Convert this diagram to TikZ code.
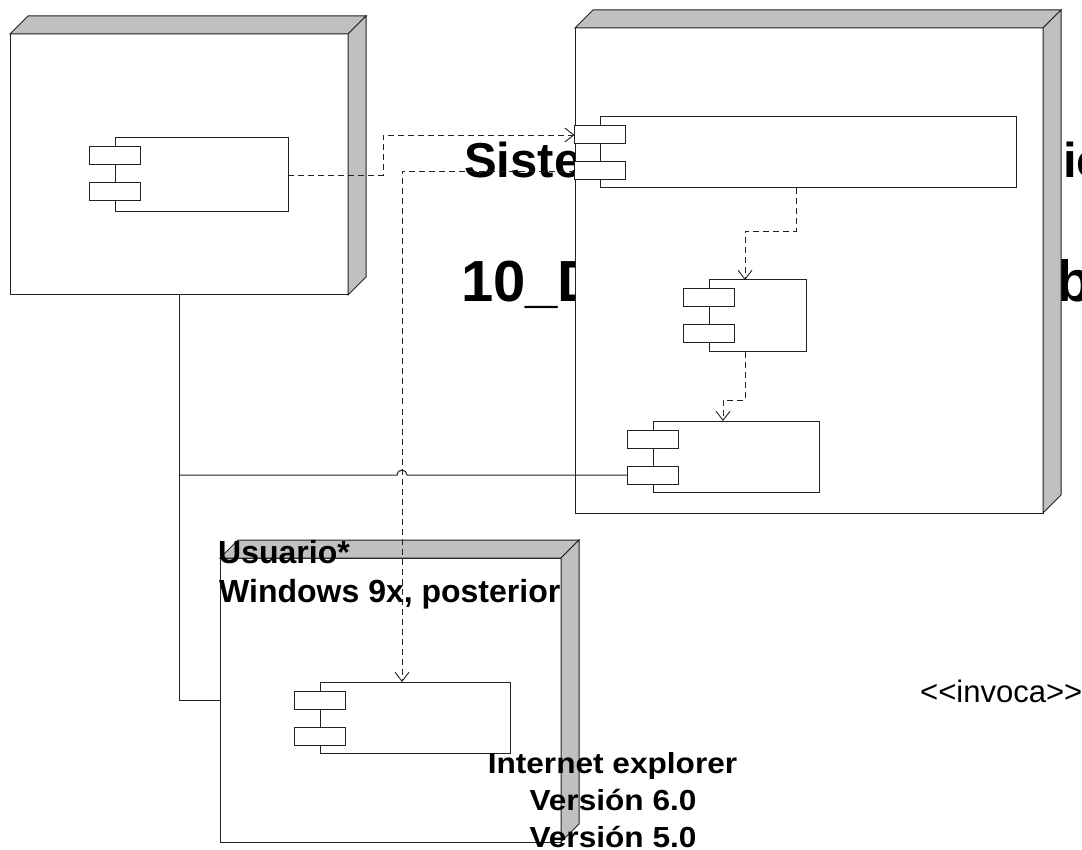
\documentclass[tikz,border=0pt]{standalone}
\usepackage{fontspec}
\setmainfont{Liberation Sans}
\usetikzlibrary{arrows.meta,calc}
\definecolor{shade}{HTML}{C0C0C0}
\definecolor{ink}{HTML}{222222}
\tikzset{
  face/.style={draw=ink, line width=1pt, fill=white, inner sep=0pt, outer sep=0pt},
  side/.style={draw=ink, line width=1pt, fill=shade},
  port/.style={draw=ink, line width=1pt, fill=white, inner sep=0pt, outer sep=0pt, minimum width=51pt, minimum height=18pt},
  dep/.style={draw=ink, line width=0.9pt, dash pattern=on 6pt off 4pt, -{Straight Barb[length=9pt,width=14pt]}},
  link/.style={draw=ink, line width=1pt},
  title/.style={font=\bfseries\fontsize{49}{58}\selectfont, inner sep=0pt, anchor=base west},
  titleb/.style={font=\bfseries\fontsize{58}{68}\selectfont, inner sep=0pt, anchor=base west},
  lbl/.style={font=\bfseries\fontsize{32}{38}\selectfont, inner sep=0pt, anchor=base west},
  ver/.style={font=\bfseries\fontsize{29}{35}\selectfont, inner sep=0pt, anchor=base},
  stereo/.style={font=\fontsize{31}{37}\selectfont, inner sep=0pt, anchor=base west}
}
\newcommand\threed[1]{%
  \draw[side] (#1.north west) -- ++(18,-18) -- ($(#1.north east)+(18,-18)$) -- (#1.north east) -- cycle;
  \draw[side] (#1.north east) -- ++(18,-18) -- ($(#1.south east)+(18,-18)$) -- (#1.south east) -- cycle;
}
\newcommand\comp[5]{%
  \node[face, anchor=north west, minimum width=#4, minimum height=#5] (#1) at (#2,#3) {};
  \node[port] (#1a) at ($(#1.north west)+(0,18)$) {};
  \node[port] (#1b) at ($(#1.north west)+(0,54)$) {};
}
\begin{document}
\begin{tikzpicture}[x=1pt,y=-1pt]
\useasboundingbox (0,0) rectangle (1082,850);
\fill[white] (0,0) rectangle (1082,850);

% title fragments (mostly hidden behind the server node)
\node[title] (t1) at (464,178) {Siste};
\node[title] (t2) at (1063,178) {ic};
\node[titleb] (t3) at (461,302) {10\_D};
\node[titleb] (t4) at (1056,302) {b};
\node[stereo] (inv) at (920,702) {<{}<invoca>{}>};

% deployment nodes
\node[face, anchor=north west, minimum width=338, minimum height=261] (N1) at (10,34) {};
\threed{N1}
\node[face, anchor=north west, minimum width=468, minimum height=485] (N2) at (575,28) {};
\threed{N2}
\node[face, anchor=north west, minimum width=341, minimum height=284] (N3) at (220,558) {};
\threed{N3}

% components
\comp{C1}{115}{138}{173}{74}
\comp{C2}{600}{117}{416}{71}
\comp{C3}{709}{280}{97}{72}
\comp{C4}{653}{421}{166}{71}
\comp{C5}{320}{682}{190}{71}

% labels
\node[lbl] (u1) at (218,563) {Usuario*};
\node[lbl] (u2) at (219,602) {Windows 9x, posterior};
\node[ver] (ie1) at (612.5,773) {\scalebox{1.09}[1]{Internet explorer}};
\node[ver] (ie2) at (613,810) {\scalebox{1.09}[1]{Versión 6.0}};
\node[ver] (ie3) at (613,847) {\scalebox{1.09}[1]{Versión 5.0}};

% connectors
\draw[link] (N1.south) |- (N3.west);
\draw[link] (C4b.west) -- (407,475) arc (0:-180:5) -- (N1.south |- C4b.west);
\draw[dep] (C1.east) -- ++(95,0) |- (C2a.west);
\draw[dep] (C2b.west) -| ($(C5.north west)+(82,0)$);
\draw[dep] ($(C2.south west)+(196,0)$) -- ++(0,43) -| ($(C3.north west)+(36,0)$);
\draw[dep] ($(C3.south west)+(36,0)$) -- ++(0,48) -| ($(C4.north west)+(70,0)$);
\end{tikzpicture}
\end{document}
